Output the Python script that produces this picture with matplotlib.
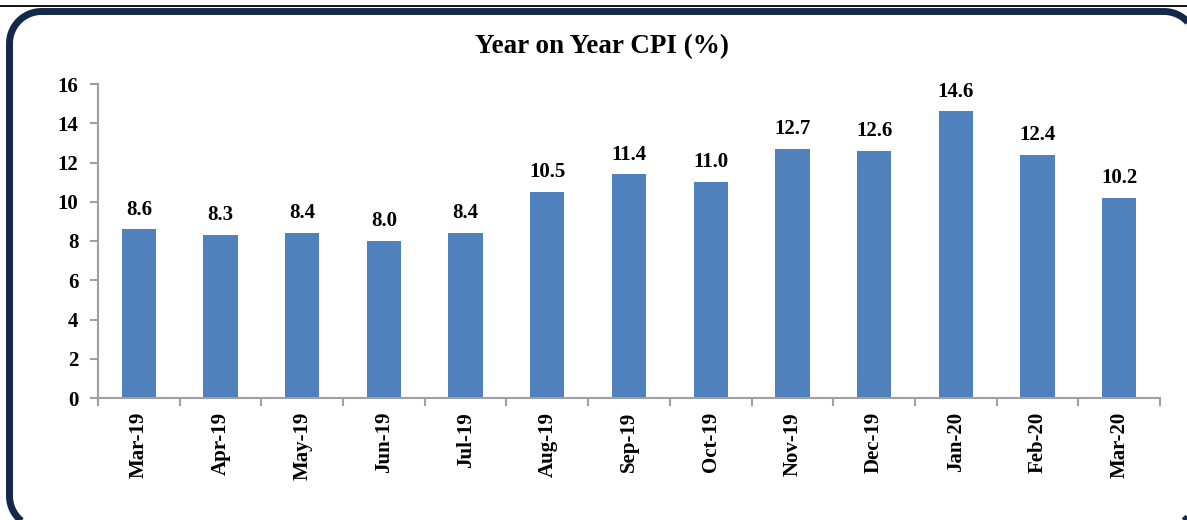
import matplotlib
matplotlib.use("Agg")
import matplotlib.pyplot as plt
from matplotlib.path import Path
from matplotlib.patches import PathPatch
import numpy as np

categories = ["Mar-19", "Apr-19", "May-19", "Jun-19", "Jul-19", "Aug-19", "Sep-19",
              "Oct-19", "Nov-19", "Dec-19", "Jan-20", "Feb-20", "Mar-20"]
cpi_values = [8.6, 8.3, 8.4, 8.0, 8.4, 10.5, 11.4, 11.0, 12.7, 12.6, 14.6, 12.4, 10.2]
y_ticks = [0, 2, 4, 6, 8, 10, 12, 14, 16]
title = "Year on Year CPI (%)"

plt.rcParams['font.family'] = ['Liberation Serif', 'DejaVu Serif']

W, H, DPI = 1187, 520, 100
fig = plt.figure(figsize=(W / DPI, H / DPI), dpi=DPI)
fig.patch.set_facecolor("white")

# overlay axes in pixel units for the decorative frame
deco = fig.add_axes([0, 0, 1, 1], zorder=-1)
deco.set_xlim(0, W)
deco.set_ylim(H, 0)
deco.set_axis_off()

def rounded_rect(l, t, r, b, rad, n=24):
    pts = []
    for cx, cy, a0 in [(l + rad, t + rad, 180), (r - rad, t + rad, 270),
                       (r - rad, b - rad, 0), (l + rad, b - rad, 90)]:
        ang = np.radians(np.linspace(a0, a0 + 90, n))
        pts += list(zip(cx + rad * np.cos(ang), cy + rad * np.sin(ang)))
    pts.append(pts[0])
    codes = [Path.MOVETO] + [Path.LINETO] * (len(pts) - 2) + [Path.CLOSEPOLY]
    return Path(pts, codes)

deco.add_patch(PathPatch(rounded_rect(9.5, 11.5, 1196.0, 528.0, 32),
                         facecolor="none", edgecolor="#13294b", linewidth=5.0,
                         clip_on=False))
deco.plot([0, W], [5.5, 5.5], color="black", linewidth=1.3, clip_on=False)

ax = fig.add_axes([98 / W, 1 - 398 / H, (1160 - 98) / W, (398 - 84) / H])
ax.patch.set_alpha(0)
x = np.arange(len(categories))
ax.bar(x, cpi_values, width=0.42, color="#4f81bd", zorder=2)

ax.set_xlim(-0.5, len(categories) - 0.5)
ax.set_ylim(0, 16)
ax.set_yticks(y_ticks)
ax.set_yticklabels([str(t) for t in y_ticks], fontsize=15, fontweight="bold")
ax.set_xticks(x)
ax.set_xticklabels(categories, rotation=90, fontsize=15, fontweight="bold")
ax.set_xticks(np.arange(len(categories) + 1) - 0.5, minor=True)
ax.tick_params(axis="x", which="major", length=0, pad=10)
ax.tick_params(axis="x", which="minor", length=6, color="#a0a0a0", width=1.5)
ax.tick_params(axis="y", length=6, color="#a0a0a0", width=1.5, pad=8)

for s in ["top", "right"]:
    ax.spines[s].set_visible(False)
for s in ["left", "bottom"]:
    ax.spines[s].set_color("#a0a0a0")
    ax.spines[s].set_linewidth(1.5)

for xi, v in zip(x, cpi_values):
    ax.annotate(f"{v:.1f}", (xi, v), xytext=(0, 7), textcoords="offset points",
                ha="center", va="bottom", fontsize=15, fontweight="bold")

fig.text(602 / W, 1 - 47 / H, title, ha="center", va="center", fontsize=19.5, fontweight="bold")

fig.savefig("out.png", dpi=DPI)
